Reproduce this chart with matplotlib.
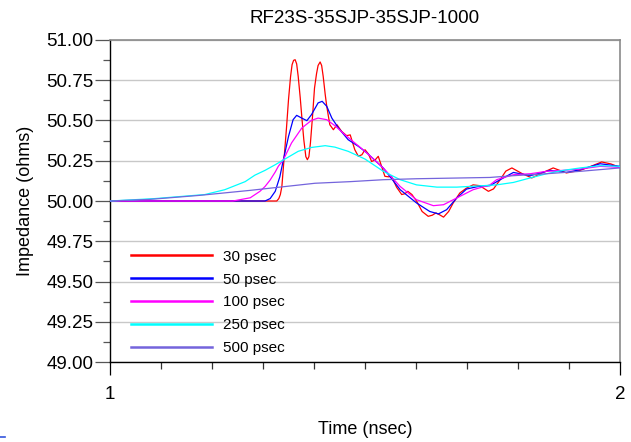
import matplotlib
matplotlib.use("Agg")
import matplotlib.pyplot as plt
from matplotlib.ticker import MultipleLocator, FormatStrFormatter, FixedLocator
from matplotlib.lines import Line2D

plt.rcParams['font.family'] = ['Liberation Sans', 'DejaVu Sans']

title = "RF23S-35SJP-35SJP-1000"
xlabel = "Time (nsec)"
ylabel = "Impedance (ohms)"
labels = ["30 psec", "50 psec", "100 psec", "250 psec", "500 psec"]
colors = ["#ff0000", "#0000ff", "#ff00ff", "#00ffff", "#7464dc"]

t_30 = [1.000, 1.327, 1.331, 1.334, 1.337, 1.341, 1.346, 1.350, 1.354, 1.357, 1.360, 1.363, 1.366, 1.369,
        1.373, 1.376, 1.380, 1.384, 1.387, 1.390, 1.393, 1.397, 1.401, 1.405, 1.408, 1.412, 1.415,
        1.418, 1.422, 1.425, 1.431, 1.438, 1.445, 1.454, 1.464, 1.471, 1.480, 1.487, 1.494, 1.500,
        1.507, 1.513, 1.520, 1.526, 1.532, 1.539, 1.546, 1.552, 1.562, 1.572, 1.578, 1.584, 1.592,
        1.601, 1.612, 1.624, 1.632, 1.639, 1.646, 1.654, 1.664, 1.673, 1.686, 1.699,
        1.712, 1.725, 1.742, 1.752, 1.765, 1.776, 1.788, 1.808, 1.827, 1.848, 1.869, 1.895, 1.922,
        1.943, 1.964, 1.982, 2.000]
z_30 = [50.000, 50.000, 50.015, 50.040, 50.090, 50.250, 50.450, 50.628, 50.770, 50.845, 50.872, 50.876,
        50.850, 50.773, 50.640, 50.525, 50.380, 50.275, 50.256, 50.275, 50.360, 50.520, 50.700, 50.790,
        50.840, 50.862, 50.840, 50.773, 50.660, 50.587, 50.473, 50.442, 50.473, 50.432, 50.405, 50.410,
        50.318, 50.277, 50.287, 50.318, 50.290, 50.245, 50.255, 50.277, 50.220, 50.153, 50.150, 50.153,
        50.085, 50.040, 50.045, 50.060, 50.040, 50.000, 49.935, 49.905, 49.912, 49.926, 49.915, 49.900,
        49.935, 49.988, 50.050, 50.080, 50.100, 50.095, 50.060, 50.075, 50.132, 50.185, 50.205, 50.170,
        50.143, 50.175, 50.205, 50.174, 50.190, 50.215, 50.242, 50.230, 50.208]

t_50 = [1.000, 1.304, 1.314, 1.324, 1.333, 1.340, 1.350, 1.359, 1.366, 1.376, 1.386, 1.395,
        1.408, 1.416, 1.425, 1.435, 1.448, 1.467, 1.487, 1.503, 1.536, 1.569, 1.601, 1.627,
        1.644, 1.660, 1.680, 1.699, 1.722, 1.745, 1.765, 1.791, 1.824, 1.863, 1.895, 1.922,
        1.961, 2.000]
z_50 = [50.000, 50.000, 50.015, 50.060, 50.150, 50.256, 50.400, 50.504, 50.531, 50.514, 50.498, 50.535,
        50.608, 50.618, 50.587, 50.514, 50.452, 50.380, 50.339, 50.300, 50.204, 50.070, 49.988, 49.935,
        49.920, 49.946, 50.019, 50.074, 50.090, 50.095, 50.132, 50.177, 50.157, 50.190, 50.177, 50.194,
        50.231, 50.215]

t_100 = [1.000, 1.241, 1.275, 1.294, 1.304, 1.314, 1.324, 1.330, 1.340, 1.356, 1.376, 1.395,
         1.408, 1.425, 1.441, 1.461, 1.480, 1.500, 1.536, 1.569, 1.601, 1.634, 1.654, 1.680,
         1.712, 1.745, 1.758, 1.791, 1.824, 1.856, 1.889, 1.922, 1.961, 2.000]
z_100 = [50.000, 50.000, 50.020, 50.060, 50.090, 50.130, 50.180, 50.215, 50.256, 50.360, 50.452, 50.500,
         50.514, 50.504, 50.467, 50.410, 50.360, 50.308, 50.204, 50.090, 50.008, 49.971, 49.977, 50.019,
         50.070, 50.100, 50.132, 50.163, 50.169, 50.184, 50.190, 50.198, 50.215, 50.208]

t_250 = [1.000, 1.088, 1.186, 1.225, 1.265, 1.284, 1.304, 1.324, 1.343, 1.369, 1.395, 1.422,
         1.441, 1.467, 1.500, 1.536, 1.569, 1.601, 1.641, 1.680, 1.732, 1.758, 1.791, 1.824,
         1.856, 1.889, 1.922, 1.961, 2.000]
z_250 = [50.000, 50.015, 50.040, 50.070, 50.120, 50.160, 50.190, 50.225, 50.260, 50.308, 50.332, 50.343,
         50.334, 50.308, 50.260, 50.184, 50.132, 50.100, 50.086, 50.086, 50.095, 50.100, 50.115, 50.143,
         50.169, 50.190, 50.205, 50.219, 50.215]

t_500 = [1.000, 1.078, 1.176, 1.275, 1.402, 1.471, 1.536, 1.601, 1.745, 1.791, 1.856, 1.922, 2.000]
z_500 = [50.000, 50.010, 50.035, 50.066, 50.110, 50.120, 50.132, 50.138, 50.146, 50.157, 50.169, 50.184, 50.205]

series = [(t_30, z_30), (t_50, z_50), (t_100, z_100), (t_250, z_250), (t_500, z_500)]

fig = plt.figure(figsize=(6.31, 4.42), dpi=100)
ax = fig.add_axes([110/631, 1-362.3/442, 510/631, 322.6/442])

handles = []
for (t, z), c, lab in zip(series, colors, labels):
    ax.plot(t, z, color=c, lw=0.9, zorder=3, solid_joinstyle='round')
    handles.append(Line2D([], [], color=c, lw=1.8, label=lab))

ax.set_xlim(1, 2)
ax.set_ylim(49, 51)

ax.yaxis.set_major_locator(MultipleLocator(0.25))
ax.yaxis.set_minor_locator(MultipleLocator(0.125))
ax.yaxis.set_major_formatter(FormatStrFormatter('%.2f'))
ax.xaxis.set_major_locator(FixedLocator([1, 2]))
ax.xaxis.set_minor_locator(MultipleLocator(0.1))
ax.set_xticklabels(["1", "2"])

ax.grid(axis='y', which='major', color='#c8c8c8', lw=1.0, zorder=1)
ax.set_axisbelow(True)

for s in ['top', 'right']:
    ax.spines[s].set_color('#8a8a8a')
    ax.spines[s].set_linewidth(1.2)
for s in ['left', 'bottom']:
    ax.spines[s].set_color('black')
    ax.spines[s].set_linewidth(1.0)

ax.tick_params(axis='y', which='major', direction='out', length=11, width=0.9,
               color='#555555', labelsize=13.5, pad=1)
ax.tick_params(axis='y', which='minor', direction='out', length=5, width=0.9, color='#555555')
ax.tick_params(axis='x', which='major', direction='out', length=9, width=0.9,
               color='black', labelsize=13.5, pad=8)
ax.tick_params(axis='x', which='minor', direction='out', length=5, width=0.9, color='#333333')

ax.set_xlabel(xlabel, fontsize=13, labelpad=13)
ax.set_ylabel(ylabel, fontsize=13, labelpad=9)
ax.set_title(title, fontsize=13.5, pad=12)

leg = ax.legend(handles=handles, loc='upper left', bbox_to_anchor=(0.041, 0.349),
                frameon=False, fontsize=11, handlelength=5.3, handletextpad=0.75,
                labelspacing=0.58, borderpad=0, borderaxespad=0)

fig.add_artist(Line2D([0, 5/631], [1-437/442, 1-437/442], color='#3355dd', lw=1.2))

fig.savefig("out.png", dpi=100)
